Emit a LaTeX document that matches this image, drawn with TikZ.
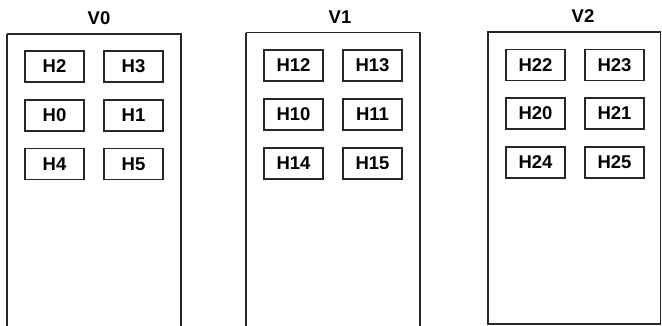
\documentclass[tikz,border=0pt]{standalone}
\usepackage{fontspec}
\setmainfont{Liberation Sans}
\begin{document}
\begin{tikzpicture}[x=1pt,y=-1pt,
  outer/.style={draw=black!85,line width=1.3pt},
  hbox/.style={draw=black!85,line width=1.2pt,minimum width=59pt,minimum height=31pt,inner sep=0pt,font=\fontsize{18.5}{18.5}\selectfont\bfseries},
  vlabel/.style={font=\fontsize{18.5}{18.5}\selectfont\bfseries,inner sep=0pt}]
\useasboundingbox (0,0) rectangle (662,325);
\begin{scope}
\clip (0,0) rectangle (662,325);
% V0
\draw[outer] (7,34) -- (7,340) (7,34) -- (181,34) -- (181,340);
\node[vlabel] (v0) at (99,18) {V0};
\node[hbox] (h2) at (54.5,66.5) {H2};
\node[hbox] (h3) at (133.5,66.5) {H3};
\node[hbox] (h0) at (54.5,115.5) {H0};
\node[hbox] (h1) at (133.5,115.5) {H1};
\node[hbox] (h4) at (54.5,164) {H4};
\node[hbox] (h5) at (133.5,164) {H5};
% V1
\draw[outer] (246,32.5) -- (246,340) (246,32.5) -- (420,32.5) -- (420,340);
\node[vlabel] (v1) at (340,17) {V1};
\node[hbox] (h12) at (293.5,65.5) {H12};
\node[hbox] (h13) at (372.5,65.5) {H13};
\node[hbox] (h10) at (293.5,114.5) {H10};
\node[hbox] (h11) at (372.5,114.5) {H11};
\node[hbox] (h14) at (293.5,163.5) {H14};
\node[hbox] (h15) at (372.5,163.5) {H15};
% V2
\draw[outer] (488,32) rectangle (660.5,324);
\node[vlabel] (v2) at (583,16.5) {V2};
\node[hbox] (h22) at (535.5,65) {H22};
\node[hbox] (h23) at (614.5,65) {H23};
\node[hbox] (h20) at (535.5,113.5) {H20};
\node[hbox] (h21) at (614.5,113.5) {H21};
\node[hbox] (h24) at (535.5,162.5) {H24};
\node[hbox] (h25) at (614.5,162.5) {H25};
\end{scope}
\end{tikzpicture}
\end{document}
